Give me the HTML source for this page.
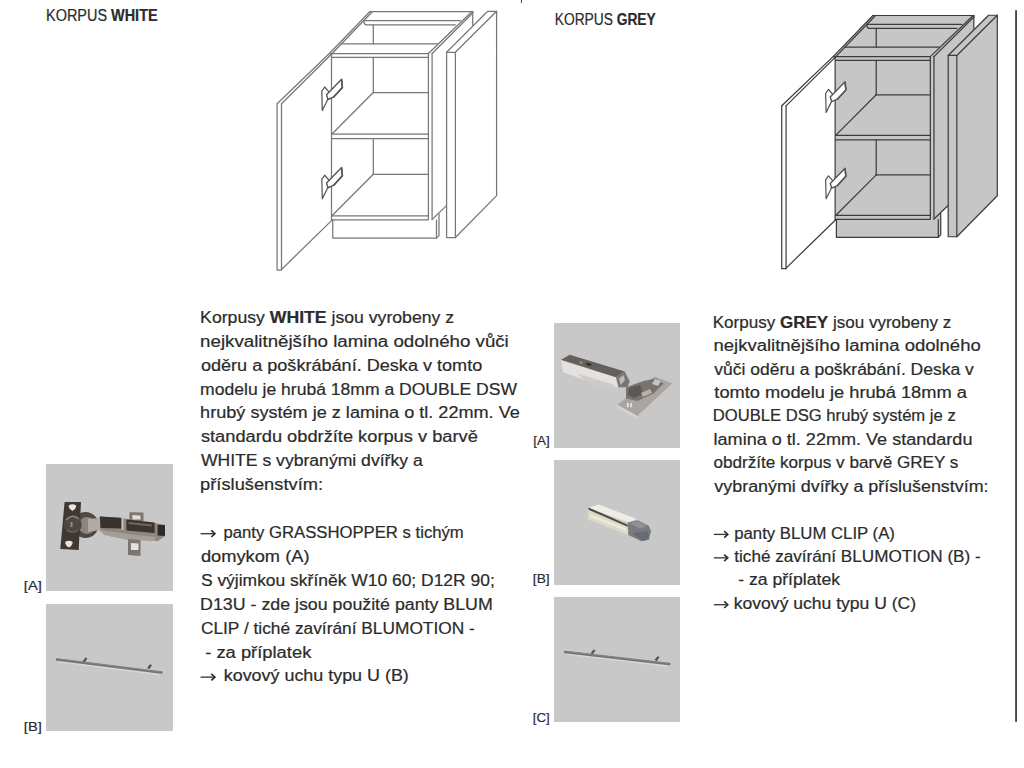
<!DOCTYPE html>
<html><head><meta charset="utf-8"><title>Korpus</title>
<style>
html,body{margin:0;padding:0;background:#fff;width:1024px;height:768px;overflow:hidden}
svg{display:block;position:absolute;left:0;top:0}
text{font-family:"Liberation Sans",sans-serif;fill:#2b2b2b;stroke:#2b2b2b;stroke-width:0.2px}
</style></head><body>
<svg width="1024" height="768" viewBox="0 0 1024 768">
<rect x="0" y="0" width="1024" height="768" fill="#fff"/>
<g transform="" stroke="#777777" stroke-width="1.25" stroke-linejoin="round" stroke-linecap="round">
<polygon fill="#ffffff" stroke="none" points="370,11.5 472.7,11.5 472.7,180 446.5,205.6 439,213 439,235.6 436.5,238.1 332.75,238.1 332.75,220 331.5,220 331.5,53.5 329.4,53.5"/>
<polygon fill="#ffffff" stroke="none" points="329.4,53.2 331.9,53.5 332,220.1 281.5,270.1 277.1,270.1 277.1,103.75"/>
<path fill="none" d="M370,11.5 H472.7"/>
<path fill="none" d="M370,11.5 L329.4,53.5 L277.1,103.75"/>
<path fill="none" d="M372.5,11.5 L331.9,53.75 L281.5,103.75"/>
<path fill="none" d="M364.2,20.6 H460.5"/>
<path fill="none" d="M366,24.75 H455.4"/>
<path fill="none" d="M364.2,20.6 Q363.4,24 366,24.75"/>
<path fill="none" d="M373.3,24.75 V43.75"/>
<path fill="none" d="M341.25,43.75 H437.5"/>
<path fill="none" d="M329.4,53.5 H428.4"/>
<path fill="none" d="M332,57.25 H428.4"/>
<path fill="none" d="M472,11.5 L428.4,53.5"/>
<path fill="none" d="M473,12.8 L432.1,53.5"/>
<path fill="none" d="M472.7,11.5 V25.3"/>
<path fill="none" d="M428.4,53.5 V219.4"/>
<path fill="none" d="M432.1,53.5 V219.4"/>
<path fill="none" d="M331.5,53.5 V220"/>
<path fill="none" d="M373.3,57.25 V92.5"/>
<path fill="none" d="M373.3,92.5 H428.4"/>
<path fill="none" d="M373.3,92.5 L332,134"/>
<path fill="none" d="M332,134 H428.4"/>
<path fill="none" d="M332,138.5 H428.4"/>
<path fill="none" d="M373.3,138.5 V174.3"/>
<path fill="none" d="M373.3,174.3 H428.4"/>
<path fill="none" d="M373.3,174.3 L332,215.75"/>
<path fill="none" d="M332,215.75 H428.4"/>
<path fill="none" d="M332,219.75 H428.4"/>
<path fill="none" d="M277.1,103.75 V270.1 H281.5"/>
<path fill="none" d="M281.5,103.75 V269.5"/>
<path fill="none" d="M281.5,269.5 L332,220.1"/>
<path fill="none" d="M332.75,220 V238.1 H436.5 V220"/>
<path fill="none" d="M436.5,238.1 L439,235.6 V213.75"/>
<path fill="none" d="M432.1,219.4 L446.5,205.6"/>
<polygon fill="#ffffff" points="487.7,11.25 496.6,11.25 496.6,195.6 455.4,237.5 446.6,237.5 446.6,52.3"/>
<path fill="none" d="M496.6,11.25 L455.4,52.3 V237.5 M446.6,52.3 H455.4"/>
<g transform="translate(0,0)" stroke="#555">
<polygon fill="#ffffff" points="321.8,91.2 324.7,87 329.1,92.2 327.5,100 322.3,110.5"/>
<polygon fill="#ffffff" stroke-width="1.4" points="326.5,94.8 341.6,79.2 342.4,87.5 333.8,96.9 328,99.5"/>
<path fill="none" stroke-width="1.6" d="M341.6,80 L342.4,87.5 L333.8,96.9"/>
</g>
<g transform="translate(0,88.25)" stroke="#555">
<polygon fill="#ffffff" points="321.8,91.2 324.7,87 329.1,92.2 327.5,100 322.3,110.5"/>
<polygon fill="#ffffff" stroke-width="1.4" points="326.5,94.8 341.6,79.2 342.4,87.5 333.8,96.9 328,99.5"/>
<path fill="none" stroke-width="1.6" d="M341.6,80 L342.4,87.5 L333.8,96.9"/>
</g>
</g>
<g transform="translate(781.75,15.5) scale(0.982,0.979) translate(-277.1,-11.5)" stroke="#3c3c3c" stroke-width="1.25" stroke-linejoin="round" stroke-linecap="round">
<polygon fill="#c6c6c6" stroke="none" points="370,11.5 472.7,11.5 472.7,180 446.5,205.6 439,213 439,235.6 436.5,238.1 332.75,238.1 332.75,220 331.5,220 331.5,53.5 329.4,53.5"/>
<polygon fill="#ffffff" stroke="none" points="329.4,53.2 331.9,53.5 332,220.1 281.5,270.1 277.1,270.1 277.1,103.75"/>
<path fill="none" d="M370,11.5 H472.7"/>
<path fill="none" d="M370,11.5 L329.4,53.5 L277.1,103.75"/>
<path fill="none" d="M372.5,11.5 L331.9,53.75 L281.5,103.75"/>
<path fill="none" d="M364.2,20.6 H460.5"/>
<path fill="none" d="M366,24.75 H455.4"/>
<path fill="none" d="M364.2,20.6 Q363.4,24 366,24.75"/>
<path fill="none" d="M373.3,24.75 V43.75"/>
<path fill="none" d="M341.25,43.75 H437.5"/>
<path fill="none" d="M329.4,53.5 H428.4"/>
<path fill="none" d="M332,57.25 H428.4"/>
<path fill="none" d="M472,11.5 L428.4,53.5"/>
<path fill="none" d="M473,12.8 L432.1,53.5"/>
<path fill="none" d="M472.7,11.5 V25.3"/>
<path fill="none" d="M428.4,53.5 V219.4"/>
<path fill="none" d="M432.1,53.5 V219.4"/>
<path fill="none" d="M331.5,53.5 V220"/>
<path fill="none" d="M373.3,57.25 V92.5"/>
<path fill="none" d="M373.3,92.5 H428.4"/>
<path fill="none" d="M373.3,92.5 L332,134"/>
<path fill="none" d="M332,134 H428.4"/>
<path fill="none" d="M332,138.5 H428.4"/>
<path fill="none" d="M373.3,138.5 V174.3"/>
<path fill="none" d="M373.3,174.3 H428.4"/>
<path fill="none" d="M373.3,174.3 L332,215.75"/>
<path fill="none" d="M332,215.75 H428.4"/>
<path fill="none" d="M332,219.75 H428.4"/>
<path fill="none" d="M277.1,103.75 V270.1 H281.5"/>
<path fill="none" d="M281.5,103.75 V269.5"/>
<path fill="none" d="M281.5,269.5 L332,220.1"/>
<path fill="none" d="M332.75,220 V238.1 H436.5 V220"/>
<path fill="none" d="M436.5,238.1 L439,235.6 V213.75"/>
<path fill="none" d="M432.1,219.4 L446.5,205.6"/>
<polygon fill="#c6c6c6" points="487.7,11.25 496.6,11.25 496.6,195.6 455.4,237.5 446.6,237.5 446.6,52.3"/>
<path fill="none" d="M496.6,11.25 L455.4,52.3 V237.5 M446.6,52.3 H455.4"/>
<g transform="translate(0,0)" stroke="#555">
<polygon fill="#ffffff" points="321.8,91.2 324.7,87 329.1,92.2 327.5,100 322.3,110.5"/>
<polygon fill="#ffffff" stroke-width="1.4" points="326.5,94.8 341.6,79.2 342.4,87.5 333.8,96.9 328,99.5"/>
<path fill="none" stroke-width="1.6" d="M341.6,80 L342.4,87.5 L333.8,96.9"/>
</g>
<g transform="translate(0,88.25)" stroke="#555">
<polygon fill="#ffffff" points="321.8,91.2 324.7,87 329.1,92.2 327.5,100 322.3,110.5"/>
<polygon fill="#ffffff" stroke-width="1.4" points="326.5,94.8 341.6,79.2 342.4,87.5 333.8,96.9 328,99.5"/>
<path fill="none" stroke-width="1.6" d="M341.6,80 L342.4,87.5 L333.8,96.9"/>
</g>
</g>
<defs><filter id="bl" x="-10%" y="-10%" width="120%" height="120%"><feGaussianBlur stdDeviation="0.45"/></filter></defs>
<rect x="46" y="464" width="127" height="127" fill="#c8c8c8"/>
<rect x="46" y="604" width="127" height="127" fill="#c8c8c8"/>
<rect x="554" y="323" width="126" height="125" fill="#c8c8c8"/>
<rect x="554" y="460" width="126" height="125" fill="#c8c8c8"/>
<rect x="554" y="597" width="126" height="125" fill="#c8c8c8"/>
<g filter="url(#bl)">
<polygon fill="#8e8780" points="99.7,516.6 121,518 165,524.8 165,536 158,541 128,539 110,536 99.7,531"/>
<polygon fill="#a59e97" points="100,530 128,534 156,537 154,541 128,540 104,535"/>
<polygon fill="#7d766f" points="128,539 140.5,540 140.5,556 128,555"/>
<polygon fill="#e6e1dc" points="130.9,543 138.5,543.5 138.5,550 131,550"/>
<polygon fill="#7d766f" points="129.4,512.2 143.5,512.6 143.5,521 129.4,521"/>
<polygon fill="#e2ddd8" points="132.4,515.1 140.5,515.4 140.5,519.6 132.4,519.6"/>
<polygon fill="#38332f" points="99.7,516.6 121.2,517.8 121.2,528.5 99.7,528"/>
<polygon fill="#3a3531" points="126.4,519.6 154.6,522.5 154.6,533 126.4,530.5"/>
<polygon fill="#6e6760" points="128.5,522 152,524.5 152,526.5 128.5,524"/>
<polygon fill="#2f2b28" points="157.6,524.8 165,525.3 165,536 157.6,535.5"/>
<rect x="121.8" y="518" width="1.6" height="12" fill="#c9c3bd"/>
<circle cx="85.5" cy="525" r="13" fill="#4e4843"/>
<circle cx="87" cy="525.5" r="8.5" fill="#8c857e"/>
<polygon fill="#b1aaa3" points="88,519 100,518 100.5,530 88,532"/>
<polygon fill="#3c3733" points="64.6,501.9 81,501.9 78.7,549.9 60.3,549.1"/>
<circle cx="72.8" cy="524.5" r="9" fill="#4d4743"/>
<path d="M66,520 Q72,513 79,519" stroke="#8d857e" stroke-width="1.6" fill="none"/>
<path d="M67,530 Q72,534 78,530" stroke="#6d665f" stroke-width="1.2" fill="none"/>
<rect x="70.5" y="522" width="2" height="5" fill="#918a83"/>
<path d="M68.6,505.5 Q72.4,503 76.2,505.5 Q76,509 72.4,511 Q68.8,509 68.6,505.5Z" fill="#e8e4e0"/>
<path d="M65.1,541.9 Q68.9,539.4 72.7,541.9 Q72.5,545.4 68.9,547.4 Q65.3,545.4 65.1,541.9Z" fill="#e8e4e0"/>
</g>
<g filter="url(#bl)">
<line x1="59" y1="661.7" x2="159.5" y2="674.7" stroke="#d9d9d9" stroke-width="1.2"/>
<line x1="57" y1="659.5" x2="161.5" y2="672.5" stroke="#737373" stroke-width="2.3" stroke-linecap="round"/>
<line x1="58" y1="659.0" x2="160.5" y2="672.0" stroke="#8e8e8e" stroke-width="0.6"/>
</g>
<g filter="url(#bl)"><path d="M82.5,661.5 L85.5,657.5 L87.5,658.3 L85,662" fill="#505050"/><path d="M147,668 L150,664.3 L152,665.1 L149.5,669" fill="#505050"/></g>
<g filter="url(#bl)">
<line x1="567" y1="654.2" x2="667.4" y2="666.2" stroke="#d9d9d9" stroke-width="1.2"/>
<line x1="565" y1="652" x2="669.4" y2="664" stroke="#737373" stroke-width="2.3" stroke-linecap="round"/>
<line x1="566" y1="651.5" x2="668.4" y2="663.5" stroke="#8e8e8e" stroke-width="0.6"/>
</g>
<g filter="url(#bl)"><path d="M590.5,653.5 L593.5,649.5 L595.5,650.3 L593,654" fill="#505050"/><path d="M654.5,660 L657.5,656.3 L659.5,657.1 L657,661" fill="#505050"/></g>
<g filter="url(#bl)">
<polygon fill="#e4e2de" points="561,360.5 616,377.5 618,387.5 600,386 563,372"/>
<polygon fill="#cfccc8" points="578,374 612,384 617,388 602,388 585,381"/>
<polygon fill="#66615d" points="561,359.75 569.75,354.75 624.75,371.6 616,377.25"/>
<polygon fill="#2e2a28" points="587,362.8 591.5,364 590.5,366 586,364.8"/>
<polygon fill="#8f8a85" points="580,361 583,362 582,364 579,363"/>
<polygon fill="#7b7671" points="616,377.25 624.75,371.6 629.75,381.6 627.25,387.25 618.5,387.25"/>
<polygon fill="#c0bbb6" points="619,378.5 623.5,375 625,380 620.5,385"/>
<polygon fill="#aaa5a0" points="617.25,404.75 654.75,376.6 672.25,383.5 637.25,416"/>
<polygon fill="#d6d2ce" points="617.25,404.75 637.25,416 637,419 617,407.5"/>
<polygon fill="#78736e" points="626,387.25 643.5,381 656,378.5 663.5,383.5 653.5,393.5 637.25,401 626,398.5"/>
<polygon fill="#5d5853" points="629,388 640,385 643,394 634,398 628,395"/>
<polygon fill="#c9c4bf" points="655,379 661,381 658,386 652,384"/>
<polygon fill="#b6b1ac" points="641,393 650,389 652,393 643,397"/>
<rect x="627" y="403" width="1.6" height="4.2" fill="#eeebe8"/>
<rect x="630.2" y="403" width="1.6" height="4.2" fill="#eeebe8"/>
</g>
<g filter="url(#bl)">
<polygon fill="#dcd9c6" points="587.8,509.3 628.4,524.9 627.7,535 587.8,519.4"/>
<polygon fill="#ebe9dd" points="590,514 626,528 626,531 590,517"/>
<polygon fill="#f0eee4" points="588.6,507.7 598.75,504.6 637,519 628.4,522.6"/>
<polygon fill="#4a4838" points="588.6,507.6 627.7,524.7 627.7,526.8 588.6,509.8"/>
<polygon fill="#777b81" points="627.7,522.6 637.8,520.2 648.75,525.7 651.1,531.2 648.75,539.75 641.7,541.3 628.4,535"/>
<polygon fill="#8f9399" points="629,523 638,521 647,526 640,528.5"/>
<polygon fill="#686c72" points="632,533 648,531 649,539 642,541"/>
</g>
<rect x="1015.2" y="10.2" width="1.7" height="711.7" fill="#333"/>
<rect x="520.9" y="0" width="1" height="3" fill="#444"/>
<path d="M200.60,533.70 H213.90" fill="none" stroke="#333" stroke-width="1.3"/><path d="M211.30,530.40 L214.90,533.70 L211.30,537.00" fill="none" stroke="#2b2b2b" stroke-width="1.6" stroke-linejoin="miter"/><path d="M200.60,677.13 H213.90" fill="none" stroke="#333" stroke-width="1.3"/><path d="M211.30,673.83 L214.90,677.13 L211.30,680.43" fill="none" stroke="#2b2b2b" stroke-width="1.6" stroke-linejoin="miter"/><path d="M713.90,534.41 H726.80" fill="none" stroke="#333" stroke-width="1.3"/><path d="M724.20,531.11 L727.80,534.41 L724.20,537.71" fill="none" stroke="#2b2b2b" stroke-width="1.6" stroke-linejoin="miter"/><path d="M713.90,557.85 H726.80" fill="none" stroke="#333" stroke-width="1.3"/><path d="M724.20,554.55 L727.80,557.85 L724.20,561.15" fill="none" stroke="#2b2b2b" stroke-width="1.6" stroke-linejoin="miter"/><path d="M713.90,604.73 H726.80" fill="none" stroke="#333" stroke-width="1.3"/><path d="M724.20,601.43 L727.80,604.73 L724.20,608.03" fill="none" stroke="#2b2b2b" stroke-width="1.6" stroke-linejoin="miter"/>
<text x="200.12" y="322.85" font-size="16" textLength="253.96" lengthAdjust="spacingAndGlyphs">Korpusy <tspan font-weight="bold">WHITE</tspan> jsou vyrobeny z</text><text x="200.12" y="346.75" font-size="16" textLength="308.68" lengthAdjust="spacingAndGlyphs">nejkvalitnějšího lamina odolného vůči</text><text x="200.92" y="370.66" font-size="16" textLength="281.34" lengthAdjust="spacingAndGlyphs">oděru a poškrábání. Deska v tomto</text><text x="200.12" y="394.57" font-size="16" textLength="316.88" lengthAdjust="spacingAndGlyphs">modelu je hrubá 18mm a DOUBLE DSW</text><text x="200.12" y="418.47" font-size="16" textLength="319.68" lengthAdjust="spacingAndGlyphs">hrubý systém je z lamina o tl. 22mm. Ve</text><text x="200.92" y="442.38" font-size="16" textLength="276.88" lengthAdjust="spacingAndGlyphs">standardu obdržíte korpus v barvě</text><text x="200.92" y="466.28" font-size="16" textLength="221.78" lengthAdjust="spacingAndGlyphs">WHITE s vybranými dvířky a</text><text x="200.12" y="490.19" font-size="16" textLength="122.94" lengthAdjust="spacingAndGlyphs">příslušenstvím:</text><text x="223.48" y="538.00" font-size="16" textLength="240.32" lengthAdjust="spacingAndGlyphs">panty GRASSHOPPER s tichým</text><text x="200.92" y="561.90" font-size="16" textLength="108.60" lengthAdjust="spacingAndGlyphs">domykom (A)</text><text x="200.92" y="585.81" font-size="16" textLength="293.88" lengthAdjust="spacingAndGlyphs">S výjimkou skříněk W10 60; D12R 90;</text><text x="200.12" y="609.71" font-size="16" textLength="292.68" lengthAdjust="spacingAndGlyphs">D13U - zde jsou použité panty BLUM</text><text x="200.92" y="633.62" font-size="16" textLength="273.88" lengthAdjust="spacingAndGlyphs">CLIP / tiché zavírání BLUMOTION -</text><text x="205.20" y="657.52" font-size="16" textLength="106.15" lengthAdjust="spacingAndGlyphs">- za příplatek</text><text x="223.74" y="681.43" font-size="16" textLength="185.06" lengthAdjust="spacingAndGlyphs">kovový uchu typu U (B)</text><text x="712.76" y="327.65" font-size="16" textLength="238.50" lengthAdjust="spacingAndGlyphs">Korpusy <tspan font-weight="bold">GREY</tspan> jsou vyrobeny z</text><text x="713.56" y="351.09" font-size="16" textLength="267.16" lengthAdjust="spacingAndGlyphs">nejkvalitnějšího lamina odolného</text><text x="714.36" y="374.53" font-size="16" textLength="259.36" lengthAdjust="spacingAndGlyphs">vůči oděru a poškrábání. Deska v</text><text x="714.36" y="397.97" font-size="16" textLength="252.52" lengthAdjust="spacingAndGlyphs">tomto modelu je hrubá 18mm a</text><text x="712.76" y="421.41" font-size="16" textLength="242.96" lengthAdjust="spacingAndGlyphs">DOUBLE DSG hrubý systém je z</text><text x="713.56" y="444.85" font-size="16" textLength="258.88" lengthAdjust="spacingAndGlyphs">lamina o tl. 22mm. Ve standardu</text><text x="713.56" y="468.29" font-size="16" textLength="244.79" lengthAdjust="spacingAndGlyphs">obdržíte korpus v barvě GREY s</text><text x="714.36" y="491.73" font-size="16" textLength="274.16" lengthAdjust="spacingAndGlyphs">vybranými dvířky a příslušenstvím:</text><text x="734.20" y="538.61" font-size="16" textLength="160.70" lengthAdjust="spacingAndGlyphs">panty BLUM CLIP (A)</text><text x="734.28" y="562.05" font-size="16" textLength="246.44" lengthAdjust="spacingAndGlyphs">tiché zavírání BLUMOTION (B) -</text><text x="738.20" y="585.49" font-size="16" textLength="101.80" lengthAdjust="spacingAndGlyphs">- za příplatek</text><text x="733.84" y="608.93" font-size="16" textLength="182.24" lengthAdjust="spacingAndGlyphs">kovový uchu typu U (C)</text><text x="46.02" y="21.20" font-size="15.6" textLength="111.60" lengthAdjust="spacingAndGlyphs">KORPUS <tspan font-weight="bold">WHITE</tspan></text><text x="554.75" y="25.10" font-size="15.6" textLength="100.97" lengthAdjust="spacingAndGlyphs">KORPUS <tspan font-weight="bold">GREY</tspan></text><text x="23.84" y="589.50" font-size="13" textLength="17.96" lengthAdjust="spacingAndGlyphs">[A]</text><text x="23.84" y="730.50" font-size="13" textLength="17.96" lengthAdjust="spacingAndGlyphs">[B]</text><text x="533.28" y="445.00" font-size="13" textLength="16.44" lengthAdjust="spacingAndGlyphs">[A]</text><text x="532.84" y="583.00" font-size="13" textLength="16.88" lengthAdjust="spacingAndGlyphs">[B]</text><text x="532.84" y="721.50" font-size="13" textLength="16.88" lengthAdjust="spacingAndGlyphs">[C]</text>
</svg>
</body></html>
